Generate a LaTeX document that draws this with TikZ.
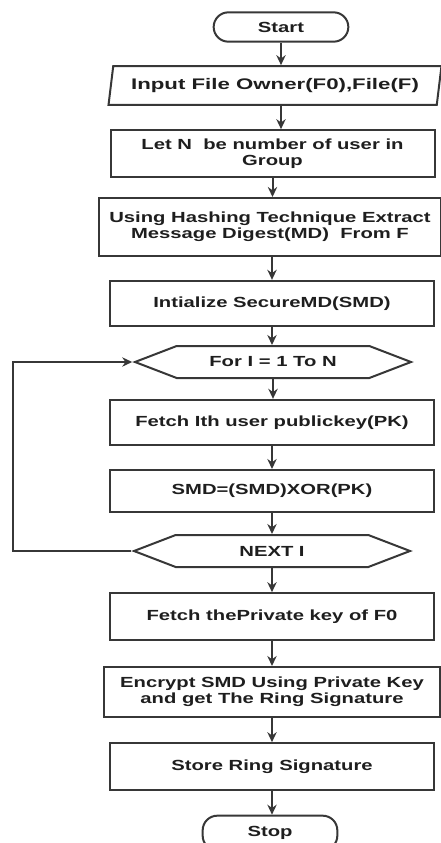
\documentclass[tikz,border=0pt]{standalone}
\usepackage{fontspec}
\setmainfont{Liberation Sans}[FakeStretch=1.38]
\newfontfamily\widesans{Liberation Sans}[FakeStretch=1.45]
\usetikzlibrary{arrows.meta,shapes.geometric,shapes.symbols}

\definecolor{linegray}{RGB}{55,55,55}
\definecolor{textgray}{RGB}{30,30,30}

\tikzset{every picture/.style={line width=1.5pt}}
\tikzset{
  flow/.style={draw=linegray, text=textgray, align=center,
    font=\bfseries\fontsize{11}{12.3}\selectfont, inner sep=1pt},
  procbox/.style={flow, rectangle, minimum width=243pt, minimum height=34pt},
  termbox/.style={flow, rectangle, rounded corners=11pt, minimum width=101pt, minimum height=22pt},
  iobox/.style={flow, trapezium, trapezium left angle=76, trapezium right angle=104,
    trapezium stretches=true, minimum width=250pt, minimum height=29pt,
    font=\widesans\bfseries\fontsize{11.5}{12.5}\selectfont},
  loopbox/.style={flow, signal, signal to=west and east, signal pointer angle=42,
    minimum width=207pt, minimum height=24pt},
  flowarrow/.style={draw=linegray, -{Stealth[length=7.5pt,width=7pt]}}
}

\begin{document}
\begin{tikzpicture}[x=0.75pt,y=0.75pt,yscale=-1,xscale=1]
	\useasboundingbox (0,0) rectangle (441,843);

	% Terminals and steps
	\node[termbox] (start) at (281,27) {Start};
	\node[iobox] (input) at (275,85.5) {Input File Owner(F0),File(F)};
	\node[procbox, minimum height=35pt] (users) at (272.5,153.5) {Let N\ \ be number of user in\\Group};
	\node[procbox, minimum width=257pt, minimum height=43.5pt] (hash) at (270,227) {Using Hashing Technique Extract\\Message Digest(MD)\ \ From F};
	\node[procbox] (init) at (272,303.5) {Intialize SecureMD(SMD)};
	\node[loopbox] (for) at (273,362) {For I = 1 To N};
	\node[procbox] (fetchpk) at (272,422.5) {Fetch Ith user publickey(PK)};
	\node[procbox, minimum height=31.5pt] (xor) at (272,491) {SMD=(SMD)XOR(PK)};
	\node[loopbox] (next) at (272,551) {NEXT I};
	\node[procbox, minimum height=35pt] (fetchsk) at (272,616.5) {Fetch thePrivate key of F0};
	\node[procbox, minimum width=252pt, minimum height=37.5pt] (encrypt) at (272,692) {Encrypt SMD Using Private Key\\and get The Ring Signature};
	\node[procbox, minimum height=35pt] (store) at (272,766.5) {Store Ring Signature};
	\node[termbox, minimum height=26pt] (stop) at (270,833) {Stop};

	% Arrows
	\draw[flowarrow] (start.south) -- (start.south |- input.north);
	\draw[flowarrow] (start.south |- input.south) -- (start.south |- users.north);
	\draw[flowarrow] (users.south) -- (users.south |- hash.north);
	\draw[flowarrow] (init.north |- hash.south) -- (init.north);
	\draw[flowarrow] (init.south) -- (init.south |- for.north);
	\draw[flowarrow] (for.south) -- (for.south |- fetchpk.north);
	\draw[flowarrow] (fetchpk.south) -- (fetchpk.south |- xor.north);
	\draw[flowarrow] (xor.south) -- (xor.south |- next.north);
	\draw[flowarrow] (next.south) -- (next.south |- fetchsk.north);
	\draw[flowarrow] (fetchsk.south) -- (fetchsk.south |- encrypt.north);
	\draw[flowarrow] (encrypt.south) -- (encrypt.south |- store.north);
	\draw[flowarrow] (store.south) -- (store.south |- stop.north);

	% Loop back
	\coordinate (loopcorner) at (13,551);
	\draw[flowarrow] (next.west) -- (loopcorner) |- (for.west);

	\end{tikzpicture}
\end{document}
